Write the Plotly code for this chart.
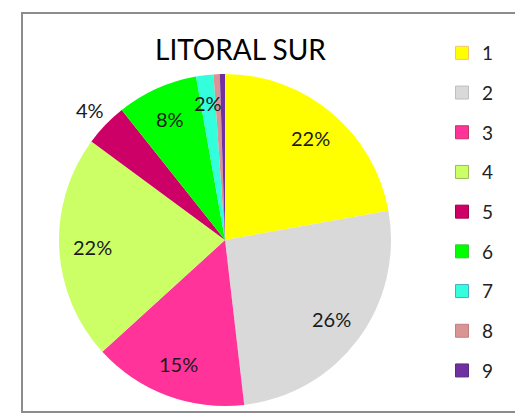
import math
import plotly.graph_objects as go

# ---- data ----
categories = ["1", "2", "3", "4", "5", "6", "7", "8", "9"]
values = [22.2, 26.0, 15.1, 21.9, 4.2, 7.9, 1.7, 0.6, 0.5]
label_shown = [True, True, True, True, True, True, True, False, False]
colors = ["#FFFF00", "#D9D9D9", "#FF3399", "#CCFF66", "#CC0066",
          "#00FF00", "#33FFDD", "#D99594", "#7030A0"]
edge_colors = ["#F2C66D", "#BFBFBF", "#C0395F", "#9BBB59", "#A0004F",
               "#33CC33", "#4BACC6", "#C08080", "#5A2A80"]
title_text = "LITORAL SUR"

W, H = 515, 415
# pie geometry (pixels)
pcx, pcy, pr = 225, 240, 166
dom_x = [(pcx - pr) / W, (pcx + pr) / W]
dom_y = [(H - pcy - pr) / H, (H - pcy + pr) / H]

FONT = "Lato, 'Open Sans', sans-serif"

fig = go.Figure()
fig.add_trace(go.Pie(
    labels=categories, values=values, sort=False, direction="clockwise",
    rotation=0, marker=dict(colors=colors, line=dict(width=0)),
    textinfo="none", hoverinfo="label+percent", showlegend=False,
    domain=dict(x=dom_x, y=dom_y),
))

# legend via dummy traces (one group each, to control spacing)
for c, col, ec in zip(categories, colors, edge_colors):
    fig.add_trace(go.Scatter(
        x=[None], y=[None], mode="markers", name=c, legendgroup=c,
        marker=dict(symbol="square", size=13, color=col, line=dict(color=ec, width=1)),
    ))

# percentage labels placed from cumulative data
total = sum(values)
annotations = []
cum = 0.0
for v, show, c in zip(values, label_shown, categories):
    mid = (cum + v / 2) / total * 2 * math.pi
    cum += v
    if not show:
        continue
    pct = round(v / total * 100)
    rf = 1.13 if c == "5" else (0.83 if c == "7" else 0.8)
    px = pcx + rf * pr * math.sin(mid)
    py = pcy - rf * pr * math.cos(mid)
    annotations.append(dict(
        x=px / W, y=(H - py) / H, xref="paper", yref="paper",
        xanchor="center", yanchor="middle",
        text=f"{pct}%", showarrow=False,
        font=dict(family=FONT, size=20, color="#1a1a1a"),
    ))

annotations.append(dict(
    x=240 / W, y=(H - 49) / H, xref="paper", yref="paper", text=title_text,
    xanchor="center", yanchor="middle",
    showarrow=False, font=dict(family=FONT, size=28, color="#000000"),
))

fig.update_layout(
    width=W, height=H,
    margin=dict(l=0, r=0, t=0, b=0),
    paper_bgcolor="white", plot_bgcolor="white",
    xaxis=dict(visible=False), yaxis=dict(visible=False),
    annotations=annotations,
    showlegend=True,
    legend=dict(
        x=442 / W, y=(H - 34) / H, xanchor="left", yanchor="top",
        font=dict(family=FONT, size=19, color="#222222"),
        tracegroupgap=12, itemwidth=30, bgcolor="rgba(0,0,0,0)",
    ),
    shapes=[dict(
        type="rect", xref="paper", yref="paper",
        x0=22 / W, x1=1.02, y0=(H - 412) / H, y1=(H - 13) / H,
        line=dict(color="#8C8C8C", width=2), fillcolor="rgba(0,0,0,0)",
        layer="below",
    )],
)

fig.write_html(
    "out.html",
    config={"displayModeBar": False},
    post_script="document.body.style.margin='0';document.body.style.overflow='hidden';",
)
